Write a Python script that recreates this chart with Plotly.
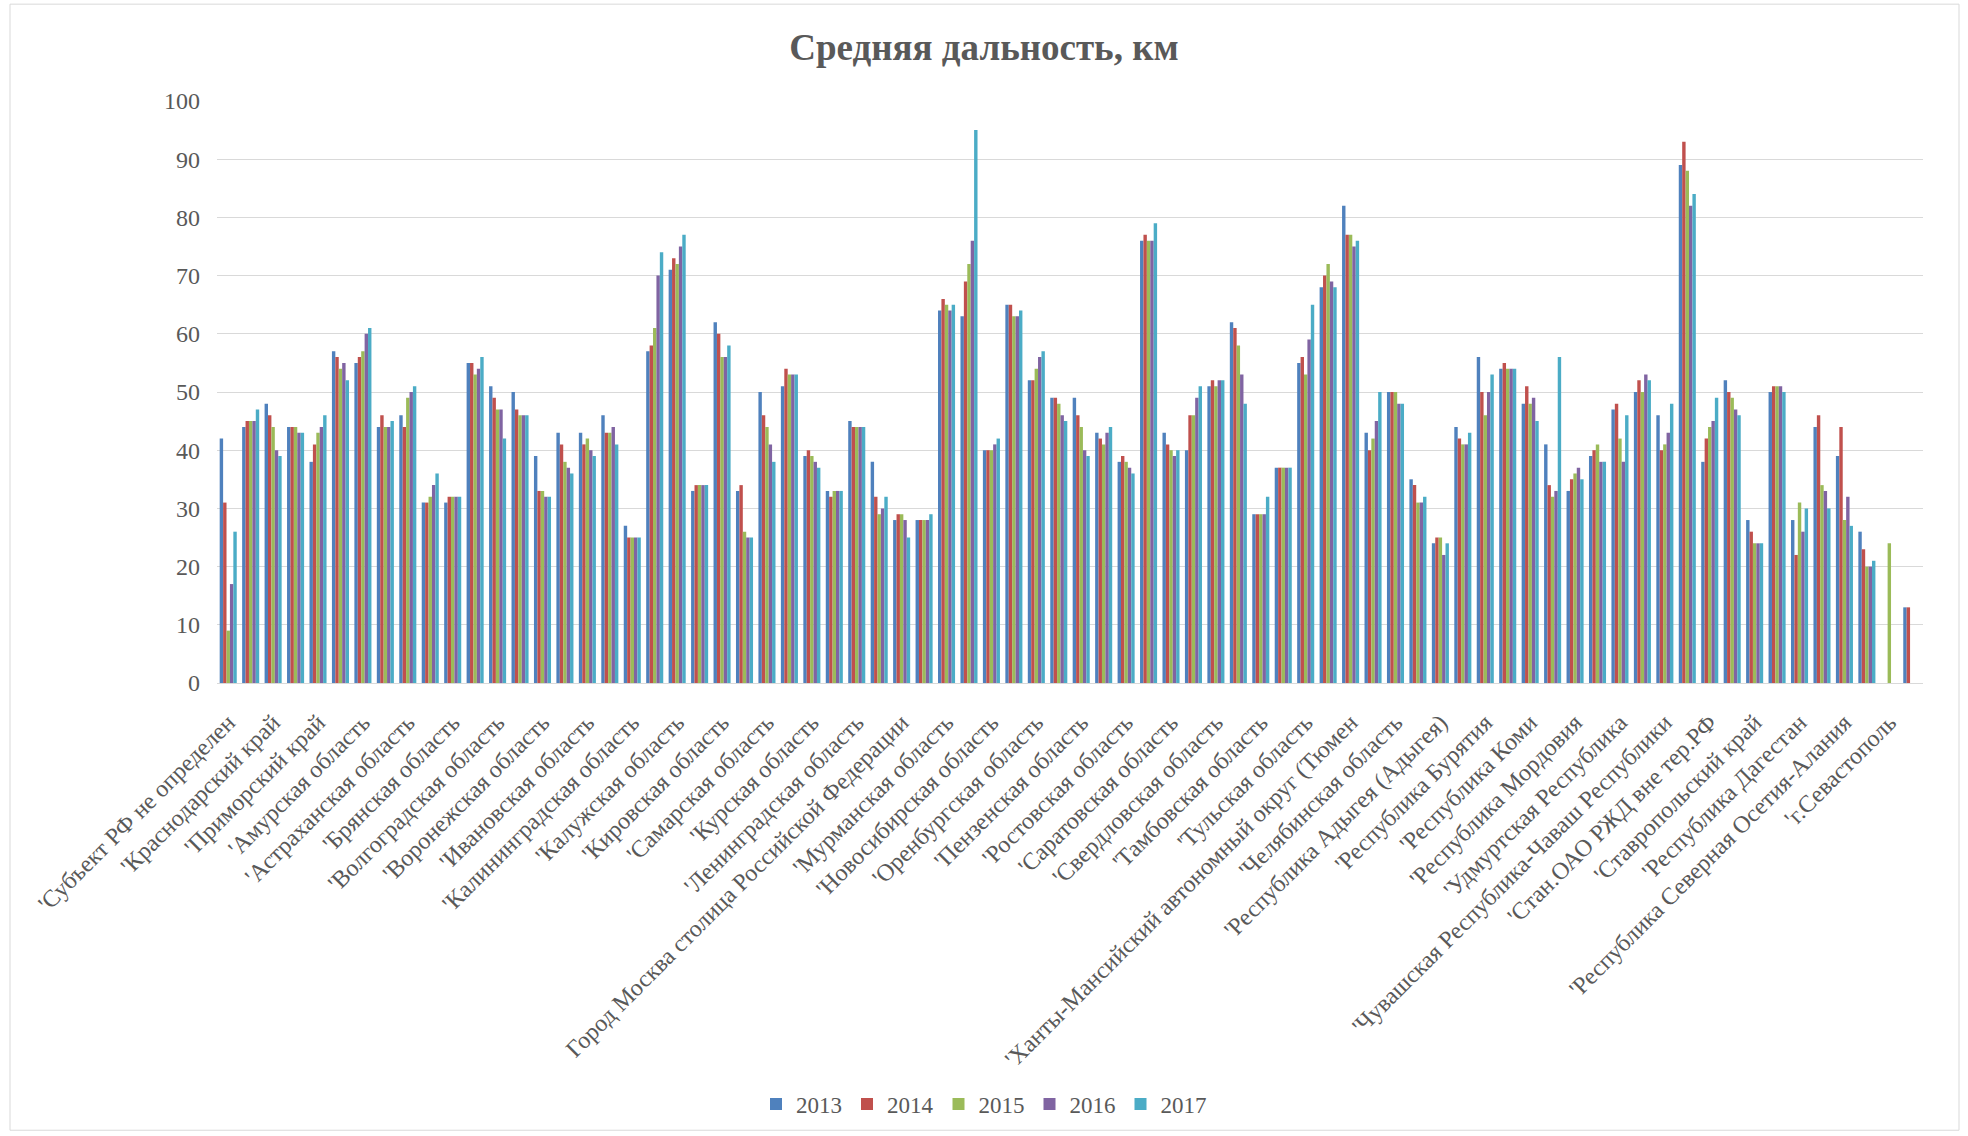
import plotly.graph_objects as go

# Regions (every second one carries a visible tick label)
categories = [
    "'Субъект РФ не определен", "'Алтайский край",
    "'Краснодарский край", "'Красноярский край",
    "'Приморский край", "'Хабаровский край",
    "'Амурская область", "'Архангельская область",
    "'Астраханская область", "'Белгородская область",
    "'Брянская область", "'Владимирская область",
    "'Волгоградская область", "'Вологодская область",
    "'Воронежская область", "'Нижегородская область",
    "'Ивановская область", "'Иркутская область",
    "'Калининградская область", "'Тверская область",
    "'Калужская область", "'Кемеровская область",
    "'Кировская область", "'Костромская область",
    "'Самарская область", "'Курганская область",
    "'Курская область", "'Город Санкт-Петербург",
    "'Ленинградская область", "'Липецкая область",
    "Город Москва столица Российской Федерации", "'Московская область",
    "'Мурманская область", "'Новгородская область",
    "'Новосибирская область", "'Омская область",
    "'Оренбургская область", "'Орловская область",
    "'Пензенская область", "'Пермский край",
    "'Ростовская область", "'Рязанская область",
    "'Саратовская область", "'Сахалинская область",
    "'Свердловская область", "'Смоленская область",
    "'Тамбовская область", "'Томская область",
    "'Тульская область", "'Тюменская область",
    "'Ханты-Мансийский автономный округ (Тюмен", "'Ульяновская область",
    "'Челябинская область", "'Ярославская область",
    "'Республика Адыгея (Адыгея)", "'Республика Башкортостан",
    "'Республика Бурятия", "'Республика Карелия",
    "'Республика Коми", "'Республика Марий Эл",
    "'Республика Мордовия", "'Республика Татарстан",
    "'Удмуртская Республика", "'Республика Хакасия",
    "'Чувашская Республика-Чаваш Республики", "'Республика Саха (Якутия)",
    "'Стан.ОАО РЖД вне тер.РФ", "'Забайкальский край",
    "'Ставропольский край", "'Кабардино-Балкарская Республика",
    "'Республика Дагестан", "'Карачаево-Черкесская Республика",
    "'Республика Северная Осетия-Алания", "'Республика Крым",
    "'г.Севастополь", "'Чеченская Республика",
]

years = ["2013", "2014", "2015", "2016", "2017"]

y2013 = [42, 44, 48, 44, 38, 57, 55, 44, 46, 31,
         31, 55, 51, 50, 39, 43, 43, 46, 27, 57,
         71, 33, 62, 33, 50, 51, 39, 33, 45, 38,
         28, 28, 64, 63, 40, 65, 52, 49, 49, 43,
         38, 76, 43, 40, 51, 62, 29, 37, 55, 68,
         82, 43, 50, 35, 24, 44, 56, 54, 48, 41,
         33, 39, 47, 50, 46, 89, 38, 52, 28, 50,
         28, 44, 39, 26, None, 13]

y2014 = [31, 45, 46, 44, 41, 56, 56, 46, 44, 31,
         32, 55, 49, 47, 33, 41, 41, 43, 25, 58,
         73, 34, 60, 34, 46, 54, 40, 32, 44, 32,
         29, 28, 66, 69, 40, 65, 52, 49, 46, 42,
         39, 77, 41, 46, 52, 61, 29, 37, 56, 70,
         77, 40, 50, 34, 25, 42, 50, 55, 51, 34,
         35, 40, 48, 52, 40, 93, 42, 50, 26, 51,
         22, 46, 44, 23, None, 13]

y2015 = [9, 45, 44, 44, 43, 54, 57, 44, 49, 32,
         32, 53, 47, 46, 33, 38, 42, 43, 25, 61,
         72, 34, 56, 26, 44, 53, 39, 33, 44, 29,
         29, 28, 65, 72, 40, 63, 54, 48, 44, 41,
         38, 76, 40, 46, 51, 58, 29, 37, 53, 72,
         77, 42, 50, 31, 25, 41, 46, 54, 48, 32,
         36, 41, 42, 50, 41, 88, 44, 49, 24, 51,
         31, 34, 28, 20, 24, None]

y2016 = [17, 45, 40, 43, 44, 55, 60, 44, 50, 34,
         32, 54, 47, 46, 32, 37, 40, 44, 25, 70,
         75, 34, 56, 25, 41, 53, 38, 33, 44, 30,
         28, 28, 64, 76, 41, 63, 56, 46, 40, 43,
         37, 76, 39, 49, 52, 53, 29, 37, 59, 69,
         75, 45, 48, 31, 22, 41, 50, 54, 49, 33,
         37, 38, 38, 53, 43, 82, 45, 47, 24, 51,
         26, 33, 32, 20, None, None]

y2017 = [26, 47, 39, 43, 46, 52, 61, 45, 51, 36,
         32, 56, 42, 46, 32, 36, 39, 41, 25, 74,
         77, 34, 58, 25, 38, 53, 37, 33, 44, 32,
         25, 29, 65, 95, 42, 64, 57, 45, 39, 44,
         36, 79, 40, 51, 52, 48, 32, 37, 65, 68,
         76, 50, 48, 32, 24, 43, 53, 54, 45, 56,
         35, 38, 46, 52, 48, 84, 49, 46, 24, 50,
         30, 30, 27, 21, None, None]

series = [y2013, y2014, y2015, y2016, y2017]
colors = ["#4F81BD", "#C0504D", "#9BBB59", "#8064A2", "#4BACC6"]

SERIF = "Liberation Serif, Times New Roman, serif"
TEXT = "#595959"
GRID = "#d9d9d9"

fig = go.Figure()
for name, vals, col in zip(years, series, colors):
    fig.add_trace(go.Bar(x=categories, y=vals, name=name,
                         marker=dict(color=col, line=dict(width=0))))

# plot area geometry in pixels
W, H = 1968, 1136
L, R, T, B = 217, 45, 101, 452
pw = W - L - R
ph = H - T - B


def px_x(p):
    return (p - L) / pw


def px_y(p):
    return (H - B - p) / ph


fig.update_layout(
    width=W, height=H,
    margin=dict(l=L, r=R, t=T, b=B, pad=0),
    paper_bgcolor="white", plot_bgcolor="white",
    barmode="group", bargap=0.24, bargroupgap=0,
    font=dict(family=SERIF, color=TEXT, size=23),
    title=dict(text="Средняя дальность, км", xref="container", x=0.5,
               xanchor="center", yref="container", y=1 - 47 / H,
               yanchor="middle",
               font=dict(family=SERIF, size=37, color=TEXT, weight="bold")),
    legend=dict(orientation="h", xref="paper", x=px_x(W / 2),
                xanchor="center", yref="paper", y=px_y(1104),
                yanchor="middle", font=dict(family=SERIF, size=23, color=TEXT),
                itemwidth=30, bgcolor="rgba(0,0,0,0)"),
    xaxis=dict(type="category", tickmode="array",
               tickvals=categories[0::2], ticktext=categories[0::2],
               tickangle=-45, tickfont=dict(family=SERIF, size=24, color=TEXT),
               showline=True, linecolor=GRID, linewidth=1, showgrid=False,
               ticks="", automargin=False, ticklabelstandoff=15),
    yaxis=dict(range=[0, 100], dtick=10, tick0=0, showgrid=True,
               gridcolor=GRID, gridwidth=1, zeroline=False, showline=False,
               ticks="", tickfont=dict(family=SERIF, size=24, color=TEXT),
               automargin=False, ticklabelstandoff=16),
    shapes=[dict(type="rect", xref="paper", yref="paper",
                 x0=px_x(10), x1=px_x(1959), y0=px_y(1132), y1=px_y(4),
                 line=dict(color=GRID, width=1), fillcolor="rgba(0,0,0,0)",
                 layer="below")],
)

fig.write_html("out.html")
